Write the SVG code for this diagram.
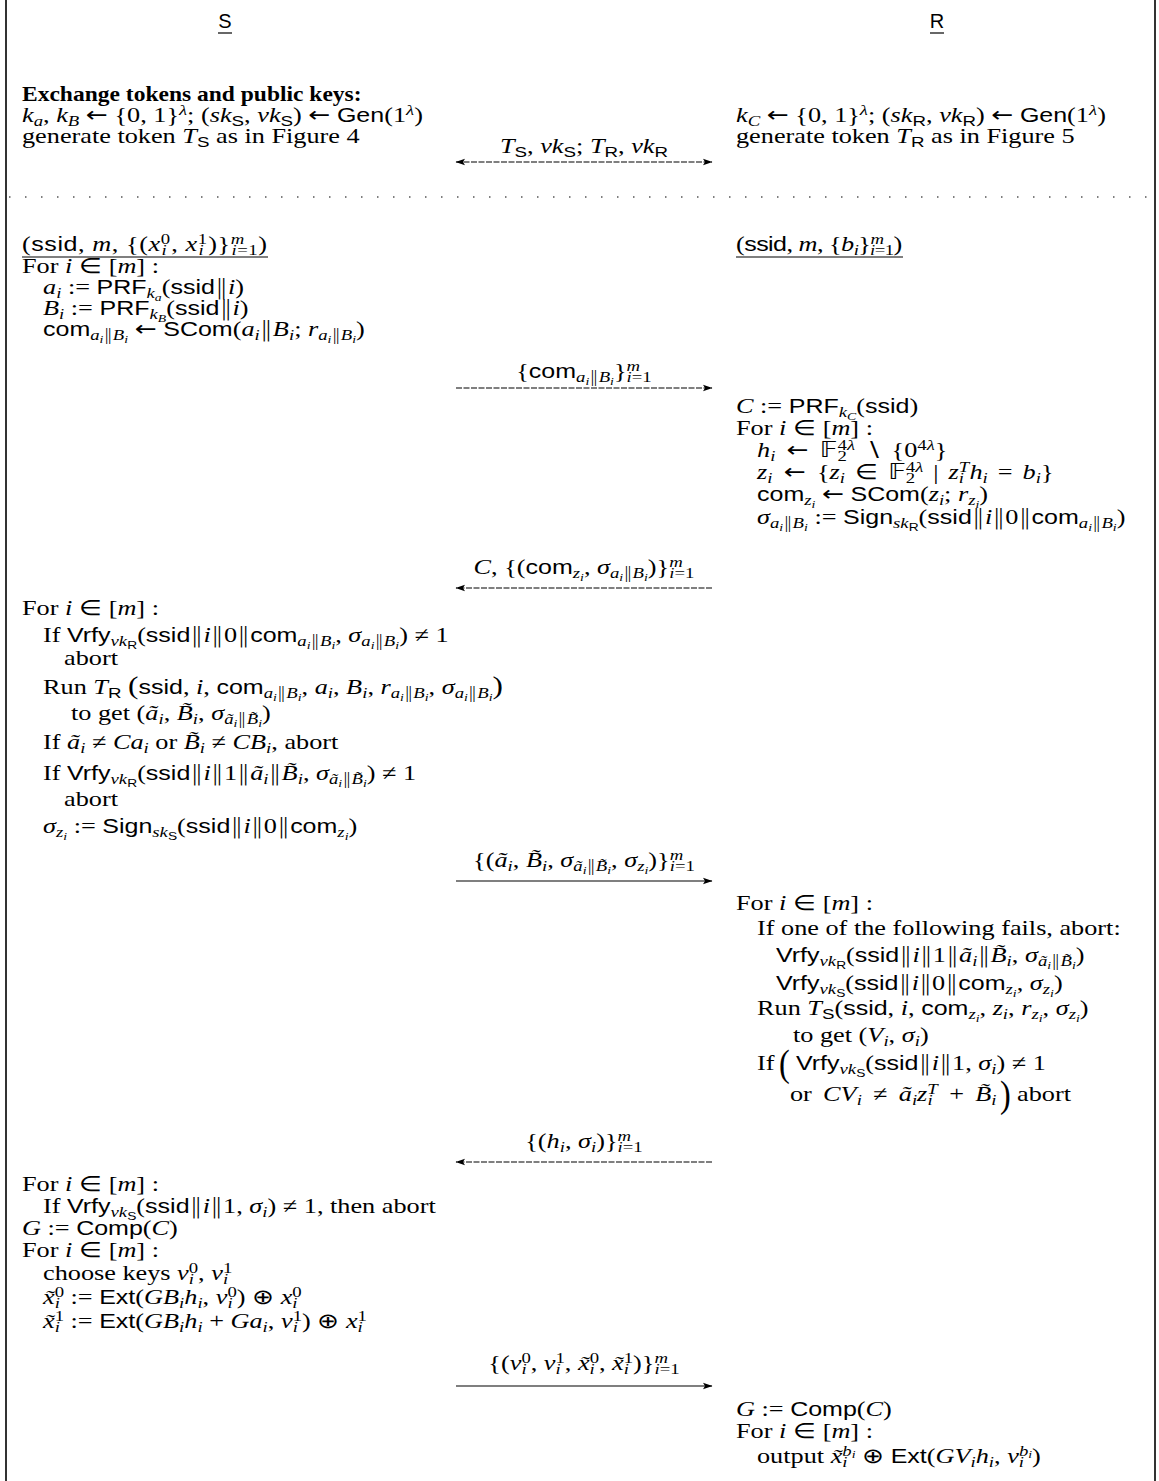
<svg xmlns="http://www.w3.org/2000/svg" width="1159" height="1481" viewBox="0 0 1159 1481">
<defs>
<marker id="ah" markerUnits="userSpaceOnUse" markerWidth="10" markerHeight="8" refX="9" refY="4" orient="auto-start-reverse"><path d="M0,0.8 L9.5,4 L0,7.2 L2,4 z" fill="#000"/></marker>
</defs>
<style>
text{font-family:"Liberation Serif",serif;font-size:21px;fill:#000}
.i{font-style:italic}
.b{font-weight:bold}
.f{font-family:"Liberation Sans",sans-serif;font-size:20px}
.p{font-family:"DejaVu Sans",sans-serif;font-style:normal;font-weight:300}
.ar{font-family:"DejaVu Sans",sans-serif;font-style:normal}
.d{font-size:15px;baseline-shift:-4.5px}
.u{font-size:15px;baseline-shift:7.5px}
.dd{font-size:11px;baseline-shift:-2.5px}
.m{text-anchor:middle}
.bb{font-family:"DejaVu Sans",sans-serif;font-style:normal}
.arr{stroke:#000;stroke-width:1.2;fill:none}
.dsh{stroke-dasharray:6 1.5}
.frame{stroke:#333;stroke-width:2}
.ul{stroke:#000;stroke-width:1.2}
.bp{font-size:38px}
</style>
<rect width="1159" height="1481" fill="#fff"/>
<g id="frame">
<line class="frame" x1="6" y1="0" x2="6" y2="1481"/>
<line class="frame" x1="1155" y1="0" x2="1155" y2="1481"/>
<line x1="9" y1="197" x2="1152" y2="197" stroke="#555" stroke-width="1.3" stroke-dasharray="1.5 14.5"/>
</g>
<g id="party-S">
<text class="f m" x="225" y="28">S</text>
<line class="ul" x1="218" y1="33" x2="232" y2="33"/>
</g>
<g id="party-R">
<text class="f m" x="937" y="28">R</text>
<line class="ul" x1="930" y1="33" x2="944" y2="33"/>
</g>
<g id="S-setup">
<text class="b" transform="translate(22,101) scale(1.12,1)">Exchange tokens and public keys:</text>
<text transform="translate(22,122) scale(1.25,1)"><tspan class="i">k</tspan><tspan class="d i">a</tspan>, <tspan class="i">k</tspan><tspan class="d i">B</tspan> <tspan class="ar">←</tspan> {0, 1}<tspan class="u i">λ</tspan>; (<tspan class="i">sk</tspan><tspan class="d f">S</tspan>, <tspan class="i">vk</tspan><tspan class="d f">S</tspan>) <tspan class="ar">←</tspan> <tspan class="f">Gen</tspan>(1<tspan class="u i">λ</tspan>)</text>
<text transform="translate(22,143) scale(1.25,1)">generate token <tspan class="i">T</tspan><tspan class="d f">S</tspan> as in Figure 4</text>
</g>
<g id="R-setup">
<text transform="translate(736,122) scale(1.25,1)"><tspan class="i">k</tspan><tspan class="d i">C</tspan> <tspan class="ar">←</tspan> {0, 1}<tspan class="u i">λ</tspan>; (<tspan class="i">sk</tspan><tspan class="d f">R</tspan>, <tspan class="i">vk</tspan><tspan class="d f">R</tspan>) <tspan class="ar">←</tspan> <tspan class="f">Gen</tspan>(1<tspan class="u i">λ</tspan>)</text>
<text transform="translate(736,143) scale(1.25,1)">generate token <tspan class="i">T</tspan><tspan class="d f">R</tspan> as in Figure 5</text>
</g>
<g id="S-input">
<text transform="translate(22,251) scale(1.25,1)" textLength="196" lengthAdjust="spacing">(<tspan class="f">ssid</tspan>, <tspan class="i">m</tspan>, {(<tspan class="i">x</tspan><tspan class="u">0</tspan><tspan class="d i" dx="-7.5">i</tspan><tspan dx="3.3">, </tspan><tspan class="i">x</tspan><tspan class="u">1</tspan><tspan class="d i" dx="-7.5">i</tspan><tspan dx="3.3">)}</tspan><tspan class="u i">m</tspan><tspan class="d" dx="-10.8"><tspan class="i">i</tspan>=1</tspan>)</text>
<line class="ul" x1="22" y1="257" x2="268" y2="257"/>
<text transform="translate(22,273) scale(1.25,1)">For <tspan class="i">i</tspan> ∈ [<tspan class="i">m</tspan>] :</text>
<text transform="translate(43,294) scale(1.25,1)"><tspan class="i">a</tspan><tspan class="d i">i</tspan> := <tspan class="f">PRF</tspan><tspan class="d"><tspan class="i">k</tspan><tspan class="dd i">a</tspan></tspan>(<tspan class="f">ssid</tspan><tspan class="p">‖</tspan><tspan class="i">i</tspan>)</text>
<text transform="translate(43,315) scale(1.25,1)"><tspan class="i">B</tspan><tspan class="d i">i</tspan> := <tspan class="f">PRF</tspan><tspan class="d"><tspan class="i">k</tspan><tspan class="dd i">B</tspan></tspan>(<tspan class="f">ssid</tspan><tspan class="p">‖</tspan><tspan class="i">i</tspan>)</text>
<text transform="translate(43,336) scale(1.25,1)"><tspan class="f">com</tspan><tspan class="d"><tspan class="i">a</tspan><tspan class="dd i">i</tspan><tspan class="p">‖</tspan><tspan class="i">B</tspan><tspan class="dd i">i</tspan></tspan> <tspan class="ar">←</tspan> <tspan class="f">SCom</tspan>(<tspan class="i">a</tspan><tspan class="d i">i</tspan><tspan class="p">‖</tspan><tspan class="i">B</tspan><tspan class="d i">i</tspan>; <tspan class="i">r</tspan><tspan class="d"><tspan class="i">a</tspan><tspan class="dd i">i</tspan><tspan class="p">‖</tspan><tspan class="i">B</tspan><tspan class="dd i">i</tspan></tspan>)</text>
</g>
<g id="R-input">
<text transform="translate(736,251) scale(1.25,1)" textLength="133" lengthAdjust="spacing">(<tspan class="f">ssid</tspan>, <tspan class="i">m</tspan>, {<tspan class="i">b</tspan><tspan class="d i">i</tspan>}<tspan class="u i">m</tspan><tspan class="d" dx="-10.8"><tspan class="i">i</tspan>=1</tspan>)</text>
<line class="ul" x1="736" y1="257" x2="903" y2="257"/>
</g>
<g id="R-round1">
<text transform="translate(736,413) scale(1.25,1)"><tspan class="i">C</tspan> := <tspan class="f">PRF</tspan><tspan class="d"><tspan class="i">k</tspan><tspan class="dd i">C</tspan></tspan>(<tspan class="f">ssid</tspan>)</text>
<text transform="translate(736,435) scale(1.25,1)">For <tspan class="i">i</tspan> ∈ [<tspan class="i">m</tspan>] :</text>
<text transform="translate(757,457) scale(1.25,1)"><tspan class="i">h</tspan><tspan class="d i">i</tspan><tspan class="ar" dx="9">←</tspan><tspan class="bb" dx="9">𝔽</tspan><tspan class="u">4<tspan class="i">λ</tspan></tspan><tspan class="d" dx="-14">2</tspan><tspan dx="14.5">∖</tspan><tspan dx="8">{0</tspan><tspan class="u">4<tspan class="i">λ</tspan></tspan>}</text>
<text transform="translate(757,479) scale(1.25,1)"><tspan class="i">z</tspan><tspan class="d i">i</tspan><tspan class="ar" dx="9">←</tspan><tspan dx="9">{</tspan><tspan class="i">z</tspan><tspan class="d i">i</tspan><tspan dx="8">∈</tspan><tspan class="bb" dx="8">𝔽</tspan><tspan class="u">4<tspan class="i">λ</tspan></tspan><tspan class="d" dx="-14">2</tspan><tspan dx="14.5">|</tspan><tspan class="i" dx="8">z</tspan><tspan class="u i">T</tspan><tspan class="d i" dx="-8.3">i</tspan><tspan class="i" dx="4.3">h</tspan><tspan class="d i">i</tspan><tspan dx="8">=</tspan><tspan class="i" dx="8">b</tspan><tspan class="d i">i</tspan>}</text>
<text transform="translate(757,501) scale(1.25,1)"><tspan class="f">com</tspan><tspan class="d"><tspan class="i">z</tspan><tspan class="dd i">i</tspan></tspan> <tspan class="ar">←</tspan> <tspan class="f">SCom</tspan>(<tspan class="i">z</tspan><tspan class="d i">i</tspan>; <tspan class="i">r</tspan><tspan class="d"><tspan class="i">z</tspan><tspan class="dd i">i</tspan></tspan>)</text>
<text transform="translate(757,524) scale(1.25,1)"><tspan class="i">σ</tspan><tspan class="d"><tspan class="i">a</tspan><tspan class="dd i">i</tspan><tspan class="p">‖</tspan><tspan class="i">B</tspan><tspan class="dd i">i</tspan></tspan> := <tspan class="f">Sign</tspan><tspan class="d"><tspan class="i">sk</tspan><tspan class="dd f">R</tspan></tspan>(<tspan class="f">ssid</tspan><tspan class="p">‖</tspan><tspan class="i">i</tspan><tspan class="p">‖</tspan>0<tspan class="p">‖</tspan><tspan class="f">com</tspan><tspan class="d"><tspan class="i">a</tspan><tspan class="dd i">i</tspan><tspan class="p">‖</tspan><tspan class="i">B</tspan><tspan class="dd i">i</tspan></tspan>)</text>
</g>
<g id="S-round2">
<text transform="translate(22,615) scale(1.25,1)">For <tspan class="i">i</tspan> ∈ [<tspan class="i">m</tspan>] :</text>
<text transform="translate(43,642) scale(1.25,1)">If <tspan class="f">Vrfy</tspan><tspan class="d"><tspan class="i">vk</tspan><tspan class="dd f">R</tspan></tspan>(<tspan class="f">ssid</tspan><tspan class="p">‖</tspan><tspan class="i">i</tspan><tspan class="p">‖</tspan>0<tspan class="p">‖</tspan><tspan class="f">com</tspan><tspan class="d"><tspan class="i">a</tspan><tspan class="dd i">i</tspan><tspan class="p">‖</tspan><tspan class="i">B</tspan><tspan class="dd i">i</tspan></tspan>, <tspan class="i">σ</tspan><tspan class="d"><tspan class="i">a</tspan><tspan class="dd i">i</tspan><tspan class="p">‖</tspan><tspan class="i">B</tspan><tspan class="dd i">i</tspan></tspan>) ≠ 1</text>
<text transform="translate(64,665) scale(1.25,1)">abort</text>
<text transform="translate(43,694) scale(1.25,1)">Run <tspan class="i">T</tspan><tspan class="d f">R</tspan> <tspan style="font-size:25px">(</tspan><tspan class="f">ssid</tspan>, <tspan class="i">i</tspan>, <tspan class="f">com</tspan><tspan class="d"><tspan class="i">a</tspan><tspan class="dd i">i</tspan><tspan class="p">‖</tspan><tspan class="i">B</tspan><tspan class="dd i">i</tspan></tspan>, <tspan class="i">a</tspan><tspan class="d i">i</tspan>, <tspan class="i">B</tspan><tspan class="d i">i</tspan>, <tspan class="i">r</tspan><tspan class="d"><tspan class="i">a</tspan><tspan class="dd i">i</tspan><tspan class="p">‖</tspan><tspan class="i">B</tspan><tspan class="dd i">i</tspan></tspan>, <tspan class="i">σ</tspan><tspan class="d"><tspan class="i">a</tspan><tspan class="dd i">i</tspan><tspan class="p">‖</tspan><tspan class="i">B</tspan><tspan class="dd i">i</tspan></tspan><tspan style="font-size:25px">)</tspan></text>
<text transform="translate(71,720) scale(1.25,1)">to get (<tspan class="i">ã</tspan><tspan class="d i">i</tspan>, <tspan class="i">B̃</tspan><tspan class="d i">i</tspan>, <tspan class="i">σ</tspan><tspan class="d"><tspan class="i">ã</tspan><tspan class="dd i">i</tspan><tspan class="p">‖</tspan><tspan class="i">B̃</tspan><tspan class="dd i">i</tspan></tspan>)</text>
<text transform="translate(43,749) scale(1.25,1)">If <tspan class="i">ã</tspan><tspan class="d i">i</tspan> ≠ <tspan class="i">Ca</tspan><tspan class="d i">i</tspan> or <tspan class="i">B̃</tspan><tspan class="d i">i</tspan> ≠ <tspan class="i">CB</tspan><tspan class="d i">i</tspan>, abort</text>
<text transform="translate(43,780) scale(1.25,1)">If <tspan class="f">Vrfy</tspan><tspan class="d"><tspan class="i">vk</tspan><tspan class="dd f">R</tspan></tspan>(<tspan class="f">ssid</tspan><tspan class="p">‖</tspan><tspan class="i">i</tspan><tspan class="p">‖</tspan>1<tspan class="p">‖</tspan><tspan class="i">ã</tspan><tspan class="d i">i</tspan><tspan class="p">‖</tspan><tspan class="i">B̃</tspan><tspan class="d i">i</tspan>, <tspan class="i">σ</tspan><tspan class="d"><tspan class="i">ã</tspan><tspan class="dd i">i</tspan><tspan class="p">‖</tspan><tspan class="i">B̃</tspan><tspan class="dd i">i</tspan></tspan>) ≠ 1</text>
<text transform="translate(64,806) scale(1.25,1)">abort</text>
<text transform="translate(43,833) scale(1.25,1)"><tspan class="i">σ</tspan><tspan class="d"><tspan class="i">z</tspan><tspan class="dd i">i</tspan></tspan> := <tspan class="f">Sign</tspan><tspan class="d"><tspan class="i">sk</tspan><tspan class="dd f">S</tspan></tspan>(<tspan class="f">ssid</tspan><tspan class="p">‖</tspan><tspan class="i">i</tspan><tspan class="p">‖</tspan>0<tspan class="p">‖</tspan><tspan class="f">com</tspan><tspan class="d"><tspan class="i">z</tspan><tspan class="dd i">i</tspan></tspan>)</text>
</g>
<g id="R-round3">
<text transform="translate(736,910) scale(1.25,1)">For <tspan class="i">i</tspan> ∈ [<tspan class="i">m</tspan>] :</text>
<text transform="translate(757,935) scale(1.25,1)">If one of the following fails, abort:</text>
<text transform="translate(776,962) scale(1.25,1)"><tspan class="f">Vrfy</tspan><tspan class="d"><tspan class="i">vk</tspan><tspan class="dd f">R</tspan></tspan>(<tspan class="f">ssid</tspan><tspan class="p">‖</tspan><tspan class="i">i</tspan><tspan class="p">‖</tspan>1<tspan class="p">‖</tspan><tspan class="i">ã</tspan><tspan class="d i">i</tspan><tspan class="p">‖</tspan><tspan class="i">B̃</tspan><tspan class="d i">i</tspan>, <tspan class="i">σ</tspan><tspan class="d"><tspan class="i">ã</tspan><tspan class="dd i">i</tspan><tspan class="p">‖</tspan><tspan class="i">B̃</tspan><tspan class="dd i">i</tspan></tspan>)</text>
<text transform="translate(776,990) scale(1.25,1)"><tspan class="f">Vrfy</tspan><tspan class="d"><tspan class="i">vk</tspan><tspan class="dd f">S</tspan></tspan>(<tspan class="f">ssid</tspan><tspan class="p">‖</tspan><tspan class="i">i</tspan><tspan class="p">‖</tspan>0<tspan class="p">‖</tspan><tspan class="f">com</tspan><tspan class="d"><tspan class="i">z</tspan><tspan class="dd i">i</tspan></tspan>, <tspan class="i">σ</tspan><tspan class="d"><tspan class="i">z</tspan><tspan class="dd i">i</tspan></tspan>)</text>
<text transform="translate(757,1015) scale(1.25,1)">Run <tspan class="i">T</tspan><tspan class="d f">S</tspan>(<tspan class="f">ssid</tspan>, <tspan class="i">i</tspan>, <tspan class="f">com</tspan><tspan class="d"><tspan class="i">z</tspan><tspan class="dd i">i</tspan></tspan>, <tspan class="i">z</tspan><tspan class="d i">i</tspan>, <tspan class="i">r</tspan><tspan class="d"><tspan class="i">z</tspan><tspan class="dd i">i</tspan></tspan>, <tspan class="i">σ</tspan><tspan class="d"><tspan class="i">z</tspan><tspan class="dd i">i</tspan></tspan>)</text>
<text transform="translate(793,1042) scale(1.25,1)">to get (<tspan class="i">V</tspan><tspan class="d i">i</tspan>, <tspan class="i">σ</tspan><tspan class="d i">i</tspan>)</text>
<text transform="translate(757,1070) scale(1.25,1)">If</text>
<text class="bp" transform="translate(779,1076) scale(0.85,1)">(</text>
<text transform="translate(796,1070) scale(1.25,1)"><tspan class="f">Vrfy</tspan><tspan class="d"><tspan class="i">vk</tspan><tspan class="dd f">S</tspan></tspan>(<tspan class="f">ssid</tspan><tspan class="p">‖</tspan><tspan class="i">i</tspan><tspan class="p">‖</tspan>1, <tspan class="i">σ</tspan><tspan class="d i">i</tspan>) ≠ 1</text>
<text transform="translate(790,1101) scale(1.25,1)">or<tspan class="i" dx="9">CV</tspan><tspan class="d i">i</tspan><tspan dx="9">≠</tspan><tspan class="i" dx="9">ã</tspan><tspan class="d i">i</tspan><tspan class="i">z</tspan><tspan class="u i">T</tspan><tspan class="d i" dx="-8.3">i</tspan><tspan dx="13.3">+</tspan><tspan class="i" dx="9">B̃</tspan><tspan class="d i">i</tspan></text>
<text class="bp" transform="translate(1000,1107) scale(0.85,1)">)</text>
<text transform="translate(1017,1101) scale(1.25,1)">abort</text>
</g>
<g id="S-round4">
<text transform="translate(22,1191) scale(1.25,1)">For <tspan class="i">i</tspan> ∈ [<tspan class="i">m</tspan>] :</text>
<text transform="translate(43,1213) scale(1.25,1)">If <tspan class="f">Vrfy</tspan><tspan class="d"><tspan class="i">vk</tspan><tspan class="dd f">S</tspan></tspan>(<tspan class="f">ssid</tspan><tspan class="p">‖</tspan><tspan class="i">i</tspan><tspan class="p">‖</tspan>1, <tspan class="i">σ</tspan><tspan class="d i">i</tspan>) ≠ 1, then abort</text>
<text transform="translate(22,1235) scale(1.25,1)"><tspan class="i">G</tspan> := <tspan class="f">Comp</tspan>(<tspan class="i">C</tspan>)</text>
<text transform="translate(22,1257) scale(1.25,1)">For <tspan class="i">i</tspan> ∈ [<tspan class="i">m</tspan>] :</text>
<text transform="translate(43,1280) scale(1.25,1)">choose keys <tspan class="i">v</tspan><tspan class="u">0</tspan><tspan class="d i" dx="-7.5">i</tspan><tspan dx="3.3">, </tspan><tspan class="i">v</tspan><tspan class="u">1</tspan><tspan class="d i" dx="-7.5">i</tspan></text>
<text transform="translate(43,1304) scale(1.25,1)"><tspan class="i">x̃</tspan><tspan class="u">0</tspan><tspan class="d i" dx="-7.5">i</tspan><tspan dx="3.3"> := </tspan><tspan class="f">Ext</tspan>(<tspan class="i">GB</tspan><tspan class="d i">i</tspan><tspan class="i">h</tspan><tspan class="d i">i</tspan>, <tspan class="i">v</tspan><tspan class="u">0</tspan><tspan class="d i" dx="-7.5">i</tspan><tspan dx="3.3">) ⊕ </tspan><tspan class="i">x</tspan><tspan class="u">0</tspan><tspan class="d i" dx="-7.5">i</tspan></text>
<text transform="translate(43,1328) scale(1.25,1)"><tspan class="i">x̃</tspan><tspan class="u">1</tspan><tspan class="d i" dx="-7.5">i</tspan><tspan dx="3.3"> := </tspan><tspan class="f">Ext</tspan>(<tspan class="i">GB</tspan><tspan class="d i">i</tspan><tspan class="i">h</tspan><tspan class="d i">i</tspan> + <tspan class="i">Ga</tspan><tspan class="d i">i</tspan>, <tspan class="i">v</tspan><tspan class="u">1</tspan><tspan class="d i" dx="-7.5">i</tspan><tspan dx="3.3">) ⊕ </tspan><tspan class="i">x</tspan><tspan class="u">1</tspan><tspan class="d i" dx="-7.5">i</tspan></text>
</g>
<g id="R-output">
<text transform="translate(736,1416) scale(1.25,1)"><tspan class="i">G</tspan> := <tspan class="f">Comp</tspan>(<tspan class="i">C</tspan>)</text>
<text transform="translate(736,1438) scale(1.25,1)">For <tspan class="i">i</tspan> ∈ [<tspan class="i">m</tspan>] :</text>
<text transform="translate(757,1463) scale(1.25,1)">output <tspan class="i">x̃</tspan><tspan class="u"><tspan class="i">b</tspan><tspan class="dd i">i</tspan></tspan><tspan class="d i" dx="-10.6">i</tspan><tspan dx="6.4"> ⊕ </tspan><tspan class="f">Ext</tspan>(<tspan class="i">GV</tspan><tspan class="d i">i</tspan><tspan class="i">h</tspan><tspan class="d i">i</tspan>, <tspan class="i">v</tspan><tspan class="u"><tspan class="i">b</tspan><tspan class="dd i">i</tspan></tspan><tspan class="d i" dx="-10.6">i</tspan><tspan dx="6.4">)</tspan></text>
</g>
<g id="connectors">
<line class="arr dsh" x1="456" y1="162" x2="712" y2="162" marker-start="url(#ah)" marker-end="url(#ah)"/>
<text class="m" transform="translate(584,153) scale(1.25,1)"><tspan class="i">T</tspan><tspan class="d f">S</tspan>, <tspan class="i">vk</tspan><tspan class="d f">S</tspan>; <tspan class="i">T</tspan><tspan class="d f">R</tspan>, <tspan class="i">vk</tspan><tspan class="d f">R</tspan></text>
<line class="arr dsh" x1="456" y1="388" x2="712" y2="388" marker-end="url(#ah)"/>
<text class="m" transform="translate(584,378) scale(1.25,1)">{<tspan class="f">com</tspan><tspan class="d"><tspan class="i">a</tspan><tspan class="dd i">i</tspan><tspan class="p">‖</tspan><tspan class="i">B</tspan><tspan class="dd i">i</tspan></tspan>}<tspan class="u i">m</tspan><tspan class="d" dx="-10.8"><tspan class="i">i</tspan>=1</tspan></text>
<line class="arr dsh" x1="712" y1="588" x2="456" y2="588" marker-end="url(#ah)"/>
<text class="m" transform="translate(584,574) scale(1.25,1)"><tspan class="i">C</tspan>, {(<tspan class="f">com</tspan><tspan class="d"><tspan class="i">z</tspan><tspan class="dd i">i</tspan></tspan>, <tspan class="i">σ</tspan><tspan class="d"><tspan class="i">a</tspan><tspan class="dd i">i</tspan><tspan class="p">‖</tspan><tspan class="i">B</tspan><tspan class="dd i">i</tspan></tspan>)}<tspan class="u i">m</tspan><tspan class="d" dx="-10.8"><tspan class="i">i</tspan>=1</tspan></text>
<line class="arr" x1="456" y1="881" x2="712" y2="881" marker-end="url(#ah)"/>
<text class="m" transform="translate(584,867) scale(1.25,1)">{(<tspan class="i">ã</tspan><tspan class="d i">i</tspan>, <tspan class="i">B̃</tspan><tspan class="d i">i</tspan>, <tspan class="i">σ</tspan><tspan class="d"><tspan class="i">ã</tspan><tspan class="dd i">i</tspan><tspan class="p">‖</tspan><tspan class="i">B̃</tspan><tspan class="dd i">i</tspan></tspan>, <tspan class="i">σ</tspan><tspan class="d"><tspan class="i">z</tspan><tspan class="dd i">i</tspan></tspan>)}<tspan class="u i">m</tspan><tspan class="d" dx="-10.8"><tspan class="i">i</tspan>=1</tspan></text>
<line class="arr dsh" x1="712" y1="1162" x2="456" y2="1162" marker-end="url(#ah)"/>
<text class="m" transform="translate(584,1148) scale(1.25,1)">{(<tspan class="i">h</tspan><tspan class="d i">i</tspan>, <tspan class="i">σ</tspan><tspan class="d i">i</tspan>)}<tspan class="u i">m</tspan><tspan class="d" dx="-10.8"><tspan class="i">i</tspan>=1</tspan></text>
<line class="arr" x1="456" y1="1386" x2="712" y2="1386" marker-end="url(#ah)"/>
<text class="m" transform="translate(584,1370) scale(1.25,1)">{(<tspan class="i">v</tspan><tspan class="u">0</tspan><tspan class="d i" dx="-7.5">i</tspan><tspan dx="3.3">, </tspan><tspan class="i">v</tspan><tspan class="u">1</tspan><tspan class="d i" dx="-7.5">i</tspan><tspan dx="3.3">, </tspan><tspan class="i">x̃</tspan><tspan class="u">0</tspan><tspan class="d i" dx="-7.5">i</tspan><tspan dx="3.3">, </tspan><tspan class="i">x̃</tspan><tspan class="u">1</tspan><tspan class="d i" dx="-7.5">i</tspan><tspan dx="3.3">)}</tspan><tspan class="u i">m</tspan><tspan class="d" dx="-10.8"><tspan class="i">i</tspan>=1</tspan></text>
</g>
</svg>
